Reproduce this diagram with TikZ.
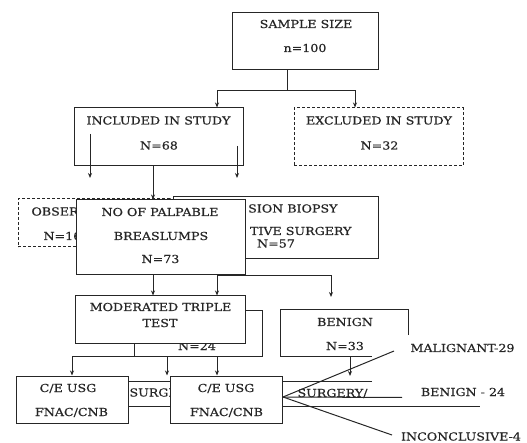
\documentclass[tikz,border=0pt]{standalone}
\usepackage{fontspec}
\setmainfont{DejaVu Serif}[FakeStretch=1.15, FakeBold=0.5]
\usetikzlibrary{arrows.meta}
\tikzstyle{box} = [rectangle, draw, fill=white, inner sep=0pt]
\tikzstyle{dbox} = [box, dash pattern=on 3pt off 2pt]
\tikzstyle{txt} = [inner sep=0pt, font=\fontsize{11}{13}\selectfont, text height=8pt, text depth=0pt]
\tikzstyle{reg} = [->, >={Stealth[length=5pt, width=4pt]}]

\begin{document}
\begin{tikzpicture}[x=1pt, y=-1pt, line width=1pt, color=black!85]
  \useasboundingbox (0,0) rectangle (527,443);

  % sample size
  \node[box, minimum width=146pt, minimum height=57pt] (sample) at (305,41.5) {};
  \node[txt] (sampleA) at (306,24) {SAMPLE SIZE};
  \node[txt] (sampleB) at (305,48) {n=100};

  % included / excluded
  \node[box, minimum width=169pt, minimum height=58pt] (incl) at (158.5,137) {};
  \node[txt] (inclA) at (158.5,120.5) {INCLUDED IN STUDY};
  \node[txt] (inclB) at (159,145.5) {N=68};
  \node[dbox, minimum width=169pt, minimum height=58pt] (excl) at (378.5,137) {};
  \node[txt] (exclA) at (379,120.5) {EXCLUDED IN STUDY};
  \node[txt] (exclB) at (379.5,145.5) {N=32};

  \coordinate (s1) at (287,91);
  \coordinate (k1) at (153,0);
  \coordinate (k2) at (217,0);
  \coordinate (k3) at (331,0);
  \coordinate (k4) at (355,0);
  \draw (sample.south -| s1) -- (s1);
  \draw[reg] (s1) -| (incl.north -| k2);
  \draw[reg] (s1) -| (excl.north -| k4);

  % arrows out of included
  \coordinate (b1) at (90,134);
  \coordinate (b1e) at (90,178);
  \coordinate (b2) at (237,146);
  \coordinate (b2e) at (237,178);
  \draw[reg] (b1) -- (b1e);
  \draw[reg] (b2) -- (b2e);

  % observation, excision, palpable lumps
  \node[dbox, minimum width=152pt, minimum height=48pt] (obs) at (94,223) {};
  \node[txt, anchor=west] (obsA) at (31,211.5) {OBSER};
  \node[txt, anchor=west] (obsB) at (43,236) {N=16};
  \node[box, minimum width=205pt, minimum height=62pt] (exc) at (275.5,228) {};
  \node[txt, anchor=east] (excA) at (338,208.5) {SION BIOPSY};
  \node[txt, anchor=east] (excB) at (352,231) {TIVE SURGERY};
  \node[txt] (excC) at (276,243.5) {N=57};
  \node[box, minimum width=169pt, minimum height=75pt] (nop) at (160.5,237.5) {};
  \node[txt] (nopA) at (160,212) {NO OF PALPABLE};
  \node[txt] (nopB) at (161,236) {BREASLUMPS};
  \node[txt] (nopC) at (160.5,259) {N=73};
  \draw[reg] (incl.south -| k1) -- (nop.north -| k1);

  % moderated triple test
  \node[box, minimum width=128pt, minimum height=45pt] (n24) at (198,333.5) {};
  \node[txt] (n24A) at (197,346) {N=24};
  \node[box, minimum width=170pt, minimum height=47pt] (mod) at (160,319.5) {};
  \node[txt] (modA) at (160.5,307) {MODERATED TRIPLE};
  \node[txt] (modB) at (160,323) {TEST};
  \coordinate (d3) at (331,297);
  \draw[reg] (nop.south -| k1) -- (mod.north -| k1);
  \draw (nop.south -| k2) -- (nop.south -| k3);
  \draw[reg] (nop.south -| k2) -- (mod.north -| k2);
  \draw[reg] (nop.south -| k3) -- (d3);

  % benign
  \draw (408,335) -- (408,310) -- (280,310) -- (280,356) -- (372,356);
  \node[txt] (benA) at (345,322) {BENIGN};
  \node[txt] (benB) at (345,346) {N=33};
  \coordinate (e1) at (350,356);
  \coordinate (e1e) at (350,376);
  \draw[reg] (e1) -- (e1e);

  % c/e usg boxes
  \draw (372,381.5) -- (128,381.5) -- (128,406.5) -- (480,406.5);
  \node[txt, anchor=west] (surgA) at (129,392.5) {SURGE};
  \node[box, minimum width=112pt, minimum height=47pt] (ce1) at (72,399.5) {};
  \node[txt] (ce1A) at (68,388) {C/E USG};
  \node[txt] (ce1B) at (71.5,412) {FNAC/CNB};
  \node[box, minimum width=112pt, minimum height=47pt] (ce2) at (226,399.5) {};
  \node[txt] (ce2A) at (226,388) {C/E USG};
  \node[txt] (ce2B) at (226.5,412) {FNAC/CNB};
  \coordinate (k5) at (167,0);
  \draw[reg] (n24.south west) -| (ce1.north);
  \draw[reg] (n24.south -| k5) -- (ce2.north -| k5);
  \draw[reg] (n24.south -| k2) -- (ce2.north -| k2);

  % outcomes
  \node[txt] (surgB) at (332.5,393) {SURGERY/};
  \node[txt] (mal) at (462.5,348) {MALIGNANT-29};
  \node[txt] (ben) at (463,392) {BENIGN - 24};
  \node[txt] (inc) at (461,436.5) {INCONCLUSIVE-4};
  \coordinate (fan) at (283,397);
  \coordinate (m1) at (394,351);
  \coordinate (m2) at (402,397.5);
  \coordinate (m3) at (392,435);
  \draw (fan) -- (m1);
  \draw (fan) -- (m2);
  \draw (fan) -- (m3);
\end{tikzpicture}
\end{document}
